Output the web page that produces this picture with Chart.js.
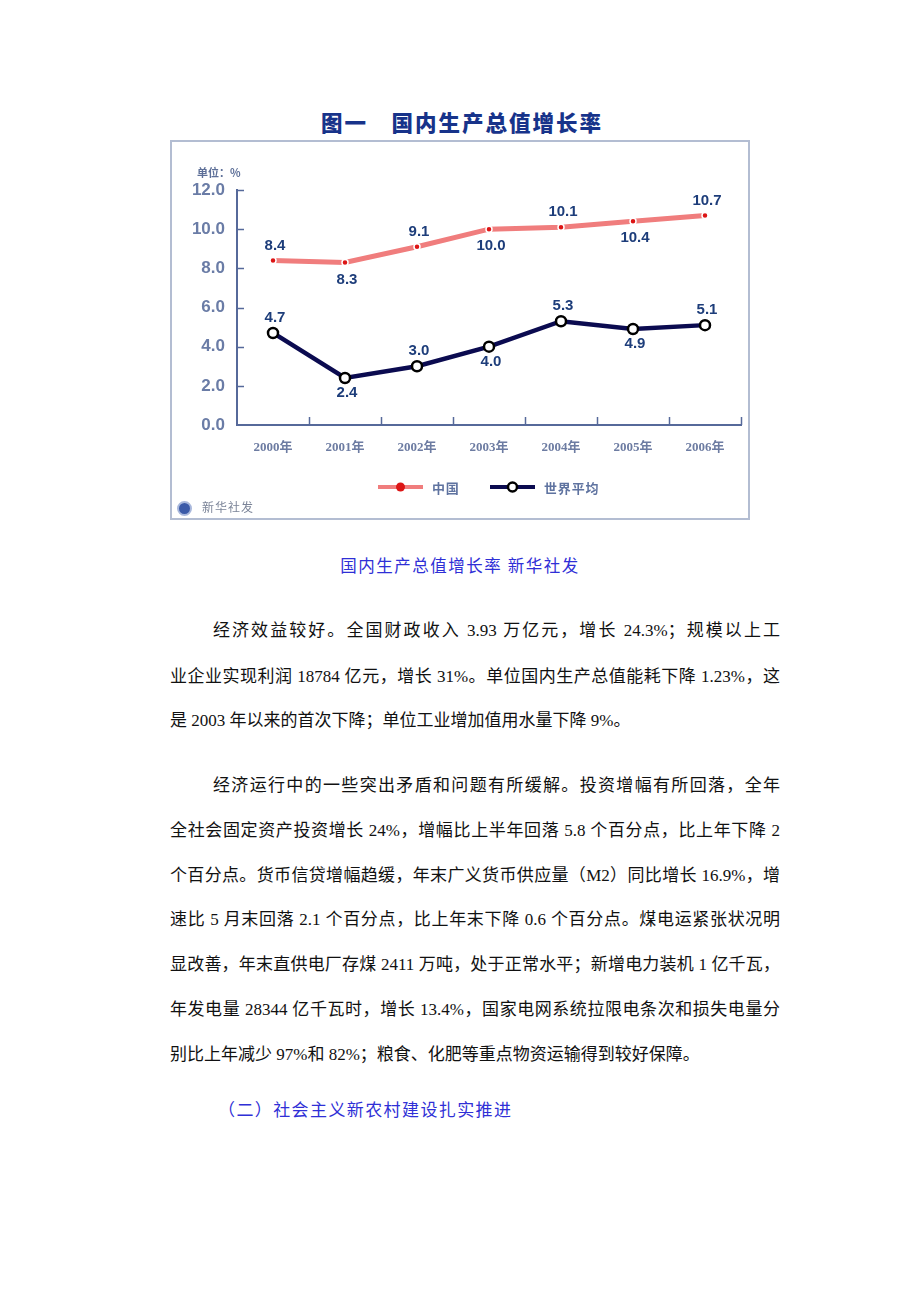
<!DOCTYPE html>
<html>
<head>
<meta charset="utf-8">
<script src="https://cdn.jsdelivr.net/npm/chart.js@4.4.0/dist/chart.umd.min.js"></script>
<style>
  body { margin: 0; background: #fff; width: 920px; height: 1302px; position: relative; overflow: hidden; }
  .abs { position: absolute; white-space: nowrap; }
  #title { left: 0; width: 924px; top: 106px; text-align: center; font: 900 21.5px "Noto Sans CJK SC"; letter-spacing: 2px; color: #17338a; }
  #unit { left: 197px; top: 164px; font: bold 11px "Noto Sans CJK SC"; color: #5d6f98; }
  #box { left: 170px; top: 140px; width: 580px; height: 380px; box-sizing: border-box; border: 2px solid #b3bdd2; pointer-events: none; }
  #chartWrap { position: absolute; left: 170px; top: 140px; width: 580px; height: 380px; }
  #src { left: 202px; top: 498px; font: 12px "Noto Sans CJK SC"; color: #7b8498; letter-spacing: 1px; }
  #logo { left: 177px; top: 501px; width: 11px; height: 11px; border-radius: 50%; background: #3b5aa8; border: 2px solid #a9b8dc; }
  #caption { left: 0; width: 920px; top: 553px; text-align: center; font: 16.5px "Liberation Serif", "Noto Sans CJK SC"; letter-spacing: 1.5px; color: #2f2fd6; }
  .line { position: absolute; left: 170px; width: 610px; height: 24px; line-height: 24px; font: 17px "Liberation Serif", "Noto Sans CJK SC"; color: #111; text-align: justify; text-align-last: justify; white-space: nowrap; }
  .line.first { left: 213px; width: 567px; }
  .line.last { text-align-last: left; }
  #heading { left: 218px; top: 1096px; font: 17px "Liberation Serif", "Noto Sans CJK SC"; letter-spacing: 1.4px; color: #2f2fd6; }
</style>
</head>
<body>
<div id="title" class="abs">图一　国内生产总值增长率</div>
<div id="chartWrap"><canvas id="growthChart" width="580" height="380"></canvas></div>
<div id="box" class="abs"></div>
<div id="unit" class="abs">单位：%</div>
<div id="logo" class="abs"></div>
<div id="src" class="abs">新华社发</div>
<div id="caption" class="abs">国内生产总值增长率 新华社发</div>

<div class="line first" style="top:616px">经济效益较好。全国财政收入 3.93 万亿元，增长 24.3%；规模以上工</div>
<div class="line" style="top:662px">业企业实现利润 18784 亿元，增长 31%。单位国内生产总值能耗下降 1.23%，这</div>
<div class="line last" style="top:706px">是 2003 年以来的首次下降；单位工业增加值用水量下降 9%。</div>

<div class="line first" style="top:771px">经济运行中的一些突出矛盾和问题有所缓解。投资增幅有所回落，全年</div>
<div class="line" style="top:816px">全社会固定资产投资增长 24%，增幅比上半年回落 5.8 个百分点，比上年下降 2</div>
<div class="line" style="top:861px">个百分点。货币信贷增幅趋缓，年末广义货币供应量（M2）同比增长 16.9%，增</div>
<div class="line" style="top:905px">速比 5 月末回落 2.1 个百分点，比上年末下降 0.6 个百分点。煤电运紧张状况明</div>
<div class="line" style="top:950px">显改善，年末直供电厂存煤 2411 万吨，处于正常水平；新增电力装机 1 亿千瓦，</div>
<div class="line" style="top:995px">年发电量 28344 亿千瓦时，增长 13.4%，国家电网系统拉限电条次和损失电量分</div>
<div class="line last" style="top:1040px">别比上年减少 97%和 82%；粮食、化肥等重点物资运输得到较好保障。</div>

<div id="heading" class="abs">（二）社会主义新农村建设扎实推进</div>

<script>
// 数据
const years = ['2000年', '2001年', '2002年', '2003年', '2004年', '2005年', '2006年'];
const chinaGrowth = [8.4, 8.3, 9.1, 10.0, 10.1, 10.4, 10.7];
const worldGrowth = [4.7, 2.4, 3.0, 4.0, 5.3, 4.9, 5.1];
const seriesNames = ['中国', '世界平均'];
const yMin = 0, yMax = 12, yStep = 2;

const axisColor = '#56699a';

// 轴内侧的小刻度
const innerTicks = {
    id: 'innerTicks',
    afterDraw(chart) {
        const ctx = chart.ctx;
        const x = chart.scales.x, y = chart.scales.y;
        const area = chart.chartArea;
        ctx.save();
        ctx.strokeStyle = axisColor;
        ctx.lineWidth = 1.5;
        y.ticks.forEach(t => {
            if (t.value === yMin) return;
            const py = Math.round(y.getPixelForValue(t.value)) + 0.5;
            ctx.beginPath();
            ctx.moveTo(area.left, py);
            ctx.lineTo(area.left + 7, py);
            ctx.stroke();
        });
        years.forEach((_, i) => {
            const px = Math.round(x.getPixelForValue(i + 0.5)) + 0.5;
            ctx.beginPath();
            ctx.moveTo(px, area.bottom);
            ctx.lineTo(px, area.bottom - 8);
            ctx.stroke();
        });
        ctx.restore();
    }
};

// 数值标签，上下交替
const valueLabels = {
    id: 'valueLabels',
    afterDatasetsDraw(chart) {
        const ctx = chart.ctx;
        ctx.save();
        ctx.font = 'bold 15px "Liberation Sans", Arial';
        ctx.fillStyle = '#1d3d7a';
        ctx.textAlign = 'center';
        ctx.textBaseline = 'middle';
        chart.data.datasets.forEach((ds, di) => {
            const meta = chart.getDatasetMeta(di);
            meta.data.forEach((pt, i) => {
                const above = i % 2 === 0;
                const dy = above ? -15 : (di === 0 ? 17 : 15);
                ctx.fillText(ds.data[i].toFixed(1), pt.x + 2, pt.y + dy);
            });
        });
        ctx.restore();
    }
};

// 图例：线段 + 标记
const lineLegend = {
    id: 'lineLegend',
    afterDraw(chart) {
        const ctx = chart.ctx;
        const spots = [{ x: 208, w: 45 }, { x: 320, w: 45 }];
        const ly = 347;
        ctx.save();
        chart.data.datasets.forEach((ds, di) => {
            const s = spots[di];
            ctx.strokeStyle = ds.borderColor;
            ctx.lineWidth = 4;
            ctx.beginPath();
            ctx.moveTo(s.x, ly);
            ctx.lineTo(s.x + s.w, ly);
            ctx.stroke();
            ctx.beginPath();
            ctx.arc(s.x + s.w / 2, ly, 4.5, 0, Math.PI * 2);
            ctx.fillStyle = ds.pointBackgroundColor;
            ctx.fill();
            if (di === 1) {
                ctx.lineWidth = 2.5;
                ctx.strokeStyle = ds.pointBorderColor;
                ctx.stroke();
            }
            ctx.fillStyle = '#5f73a0';
            ctx.font = 'bold 13px "Noto Sans CJK SC"';
            ctx.textBaseline = 'middle';
            ctx.textAlign = 'left';
            const txt = ds.label.split('').join(String.fromCharCode(8202));
            ctx.fillText(txt, s.x + s.w + 9, ly + 1);
        });
        ctx.restore();
    }
};

const growthChart = new Chart(document.getElementById('growthChart').getContext('2d'), {
    type: 'line',
    data: {
        labels: years,
        datasets: [{
            label: seriesNames[0],
            data: chinaGrowth,
            borderColor: '#f07d7d',
            borderWidth: 5,
            pointRadius: 3,
            pointBackgroundColor: '#dc1515',
            pointBorderColor: '#ffffff',
            pointBorderWidth: 1.5,
            tension: 0
        }, {
            label: seriesNames[1],
            data: worldGrowth,
            borderColor: '#0b0b50',
            borderWidth: 4.5,
            pointRadius: 5,
            pointBackgroundColor: '#ffffff',
            pointBorderColor: '#000000',
            pointBorderWidth: 2.5,
            tension: 0
        }]
    },
    options: {
        responsive: false,
        animation: false,
        layout: { padding: { top: 50, right: 9, left: 0, bottom: 0 } },
        plugins: { legend: { display: false }, tooltip: { enabled: false } },
        scales: {
            x: {
                offset: true,
                grid: { drawOnChartArea: false, drawTicks: false },
                border: { display: true, color: axisColor, width: 2 },
                ticks: {
                    padding: 15,
                    color: '#6d7ca2',
                    font: { family: '"Liberation Serif", "Noto Sans CJK SC"', size: 13, weight: 'bold' }
                },
                afterFit(scale) { scale.height = 95; }
            },
            y: {
                min: yMin,
                max: yMax,
                grid: { drawOnChartArea: false, drawTicks: false },
                border: { display: true, color: axisColor, width: 2 },
                ticks: {
                    stepSize: yStep,
                    padding: 12,
                    color: '#6a7ca6',
                    font: { family: '"Liberation Sans", Arial', size: 17, weight: 'bold' },
                    callback: v => v.toFixed(1)
                },
                afterFit(scale) { scale.width = 67; }
            }
        }
    },
    plugins: [innerTicks, valueLabels, lineLegend]
});
</script>
</body>
</html>
